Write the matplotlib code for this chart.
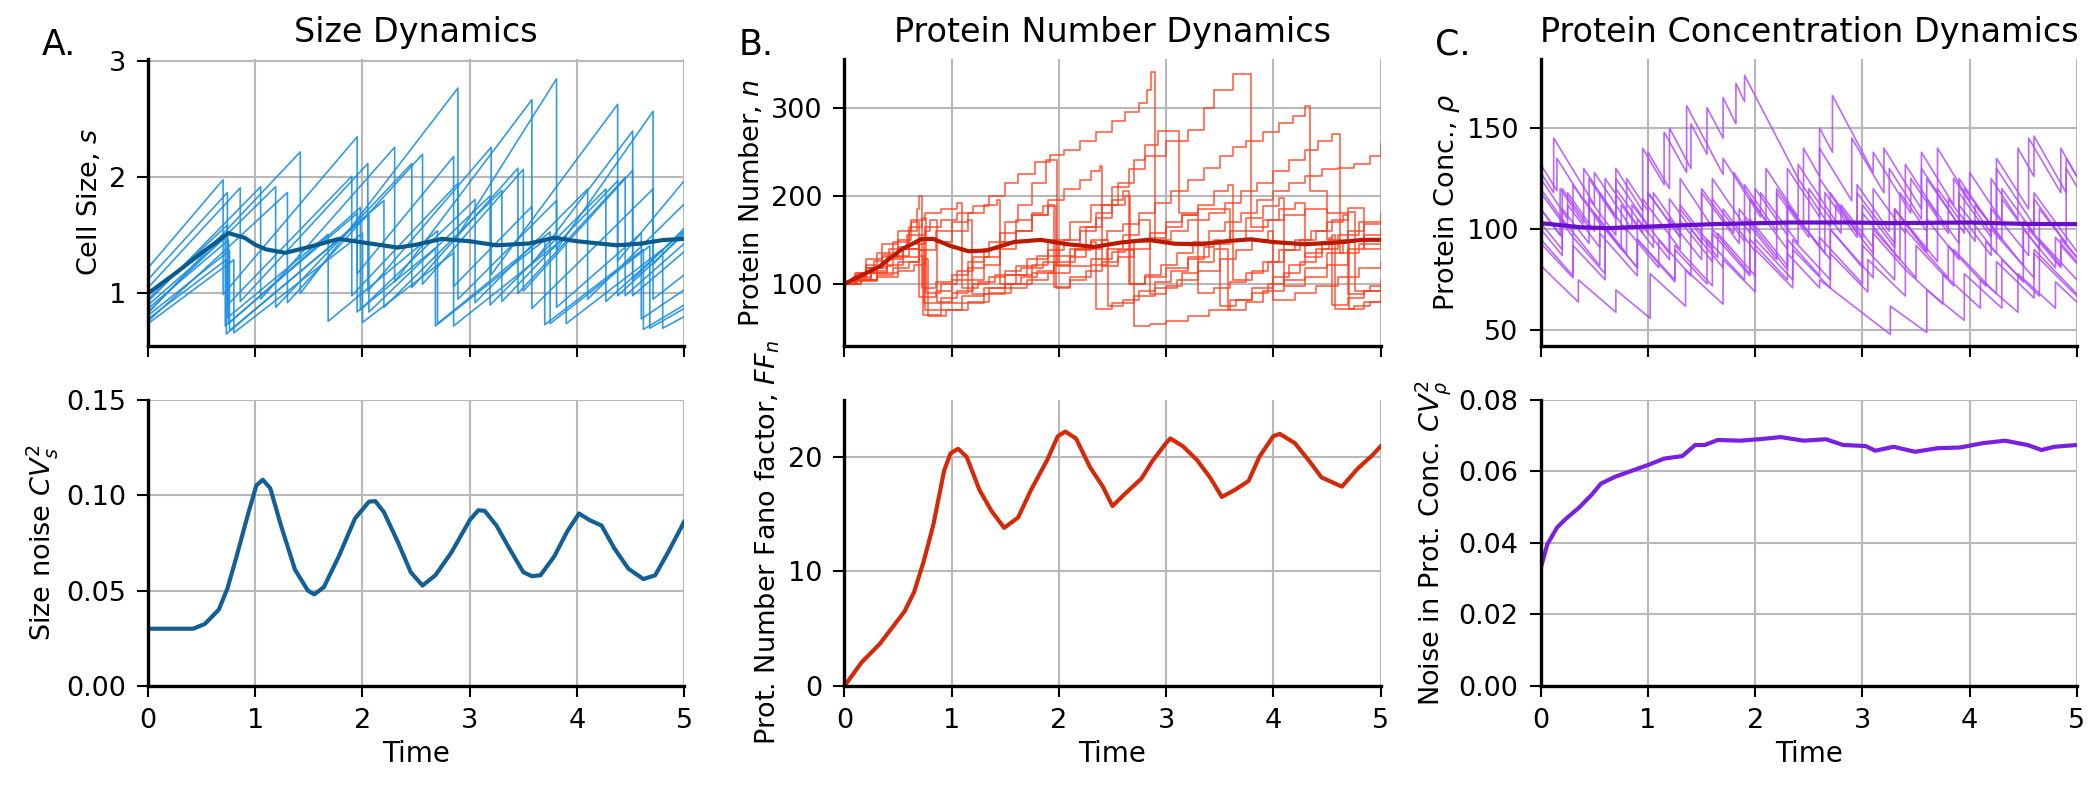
import numpy as np
import matplotlib.pyplot as plt

# ---- data ----
# A. cell size trajectories, vertices (time, size); a repeated time is a division
size_traj = [
    [(0, 1.22), (0.70, 1.98), (0.70, 0.99), (1.95, 2.35), (1.95, 1.17), (2.85, 2.18), (2.85, 1.06),
     (3.58, 1.75), (3.58, 0.87), (4.71, 1.90), (4.71, 0.95), (5, 1.16)],
    [(0, 1.05), (0.86, 1.91), (0.86, 0.93), (2.05, 2.12), (2.05, 1.02), (3.20, 2.26), (3.20, 1.16),
     (4.38, 2.63), (4.38, 1.28), (5, 1.97)],
    [(0, 1.12), (0.74, 1.87), (0.74, 0.90), (1.90, 2.01), (1.90, 0.98), (2.89, 1.95), (2.89, 0.95),
     (3.81, 1.80), (3.81, 0.88), (4.60, 1.52), (4.60, 0.78), (5, 1.03)],
    [(0, 0.93), (1.05, 1.92), (1.05, 0.95), (2.30, 2.26), (2.30, 1.10), (3.58, 2.67), (3.58, 1.25),
     (4.52, 2.40), (4.52, 1.12), (5, 1.56)],
    [(0, 0.84), (1.19, 1.92), (1.19, 0.88), (2.46, 2.12), (2.46, 1.05), (3.45, 2.08), (3.45, 1.00),
     (4.45, 2.00), (4.45, 0.98), (5, 1.43)],
    [(0, 0.83), (1.42, 2.22), (1.42, 1.00), (2.89, 2.77), (2.89, 1.50), (3.81, 2.85), (3.81, 1.38),
     (4.71, 2.57), (4.71, 1.25), (5, 1.53)],
    [(0, 0.90), (0.72, 1.48), (0.72, 0.72), (1.95, 1.69), (1.95, 0.84), (2.68, 1.39), (2.68, 0.72),
     (3.70, 1.46), (3.70, 0.73), (4.62, 1.38), (4.62, 0.69), (5, 0.90)],
    [(0, 0.87), (0.75, 1.46), (0.75, 0.74), (1.98, 1.74), (1.98, 0.86), (3.05, 1.81), (3.05, 0.92),
     (4.10, 1.90), (4.10, 0.95), (5, 1.77)],
    [(0, 0.81), (0.76, 1.37), (0.76, 0.68), (2.06, 1.68), (2.06, 0.84), (3.19, 1.84), (3.19, 0.90),
     (4.27, 1.90), (4.27, 0.93), (5, 1.54)],
    [(0, 0.78), (0.73, 1.29), (0.73, 0.65), (2.20, 1.80), (2.20, 0.88), (3.30, 1.89), (3.30, 0.93),
     (4.38, 1.97), (4.38, 0.98), (5, 1.51)],
    [(0, 0.76), (1.30, 1.87), (1.30, 0.92), (2.56, 2.20), (2.56, 1.08), (3.50, 2.07), (3.50, 1.02),
     (4.52, 2.06), (4.52, 0.98), (5, 1.36)],
    [(0, 0.74), (0.80, 1.29), (0.80, 0.66), (2.00, 1.52), (2.00, 0.75), (2.85, 1.35), (2.85, 0.72),
     (3.90, 1.49), (3.90, 0.74), (4.80, 1.38), (4.80, 0.70), (5, 0.80)],
    [(0, 0.95), (0.74, 1.59), (0.74, 0.79), (1.68, 1.51), (1.68, 0.76), (2.70, 1.54), (2.70, 0.74),
     (3.75, 1.53), (3.75, 0.74), (4.68, 1.41), (4.68, 0.70), (5, 0.87)],
]
size_mean_t = [0, 0.25, 0.5, 0.75, 0.9, 1.0, 1.1, 1.28, 1.5, 1.78, 2.0, 2.33, 2.5, 2.74, 3.0, 3.25,
               3.55, 3.79, 4.0, 4.37, 4.6, 4.8, 5.0]
size_mean = [1.0, 1.17, 1.35, 1.52, 1.48, 1.42, 1.38, 1.35, 1.40, 1.47, 1.44, 1.395, 1.42, 1.47, 1.45,
             1.415, 1.43, 1.48, 1.45, 1.415, 1.43, 1.46, 1.47]

# A. size noise CV_s^2
cv_s_t = [0, 0.42, 0.53, 0.66, 0.74, 0.82, 0.93, 1.01, 1.07, 1.14, 1.24, 1.37, 1.49, 1.55, 1.64, 1.78,
          1.93, 2.06, 2.12, 2.20, 2.33, 2.45, 2.56, 2.68, 2.83, 3.0, 3.08, 3.14, 3.25, 3.37, 3.50, 3.58,
          3.66, 3.79, 3.91, 4.02, 4.12, 4.23, 4.35, 4.48, 4.62, 4.73, 4.85, 5.0]
cv_s = [0.030, 0.030, 0.0325, 0.040, 0.051, 0.0667, 0.0895, 0.105, 0.108, 0.1035, 0.084, 0.061, 0.050,
        0.048, 0.0518, 0.068, 0.0877, 0.0965, 0.0968, 0.091, 0.0754, 0.0596, 0.0526, 0.058, 0.070,
        0.0868, 0.092, 0.0917, 0.084, 0.072, 0.0596, 0.0575, 0.058, 0.068, 0.081, 0.0903, 0.0868,
        0.084, 0.072, 0.0614, 0.056, 0.058, 0.070, 0.086]

# B. protein number trajectories, change points (time, n)
prot_traj = [
    [(0, 100), (0.08, 108), (0.2, 118), (0.35, 133), (0.5, 150), (0.62, 170), (0.70, 85), (0.85, 92),
     (1.0, 104), (1.15, 118), (1.3, 130), (1.45, 148), (1.6, 160), (1.75, 178), (1.9, 190), (1.95, 96),
     (2.1, 108), (2.3, 122), (2.45, 140), (2.6, 155), (2.75, 172), (2.85, 88), (3.0, 98), (3.15, 112),
     (3.3, 125), (3.45, 140), (3.58, 70), (3.75, 80), (3.9, 92), (4.1, 105), (4.3, 118), (4.5, 135),
     (4.65, 146), (4.71, 72), (4.85, 80), (5, 88)],
    [(0, 100), (0.12, 112), (0.28, 126), (0.42, 140), (0.58, 155), (0.75, 165), (0.9, 172), (1.05, 180),
     (1.2, 188), (1.35, 200), (1.5, 214), (1.62, 225), (1.78, 238), (1.92, 246), (2.05, 252),
     (2.2, 262), (2.35, 272), (2.5, 285), (2.62, 295), (2.75, 305), (2.82, 320), (2.86, 340),
     (2.90, 150), (3.05, 160), (3.2, 172), (3.4, 180), (3.55, 192), (3.7, 205), (3.85, 215),
     (4.0, 228), (4.15, 240), (4.3, 252), (4.42, 262), (4.55, 270), (4.62, 135), (4.8, 145), (5, 160)],
    [(0, 100), (0.1, 104), (0.3, 112), (0.5, 125), (0.7, 138), (0.75, 70), (0.9, 78), (1.1, 86),
     (1.3, 95), (1.5, 110), (1.7, 128), (1.9, 150), (2.1, 170), (2.3, 190), (2.5, 210), (2.65, 230),
     (2.8, 245), (3.0, 262), (3.2, 275), (3.35, 300), (3.45, 320), (3.62, 338), (3.79, 165),
     (3.95, 172), (4.1, 178), (4.3, 185), (4.5, 150), (4.7, 160), (4.85, 168), (5, 175)],
    [(0, 100), (0.1, 106), (0.25, 115), (0.4, 128), (0.55, 140), (0.7, 150), (0.74, 78), (0.9, 84),
     (1.05, 92), (1.2, 100), (1.35, 108), (1.5, 115), (1.65, 118), (1.85, 125), (2.0, 132), (2.15, 140),
     (2.3, 150), (2.45, 160), (2.6, 168), (2.75, 180), (2.9, 192), (3.05, 205), (3.2, 218), (3.35, 232),
     (3.5, 245), (3.62, 255), (3.75, 262), (3.9, 272), (4.05, 282), (4.18, 290), (4.3, 302), (4.34, 205),
     (4.5, 180), (4.7, 186), (4.85, 140), (5, 145)],
    [(0, 100), (0.1, 108), (0.2, 118), (0.35, 130), (0.5, 142), (0.6, 160), (0.68, 185), (0.70, 200),
     (0.72, 95), (0.85, 102), (1.0, 110), (1.15, 125), (1.3, 140), (1.45, 158), (1.6, 172), (1.75, 180),
     (1.85, 188), (1.97, 95), (2.1, 104), (2.25, 115), (2.4, 125), (2.55, 138), (2.7, 148), (2.85, 158),
     (3.0, 170), (3.15, 178), (3.3, 90), (3.45, 95), (3.6, 102), (3.75, 112), (3.9, 125), (4.05, 138),
     (4.2, 150), (4.35, 160), (4.5, 170), (4.65, 178), (4.7, 88), (4.85, 92), (5, 100)],
    [(0, 100), (0.15, 112), (0.3, 120), (0.45, 132), (0.6, 145), (0.75, 160), (0.8, 172), (0.86, 80),
     (1.0, 90), (1.15, 105), (1.3, 122), (1.45, 140), (1.6, 160), (1.75, 178), (1.9, 195), (2.05, 208),
     (2.2, 218), (2.3, 228), (2.38, 234), (2.40, 120), (2.55, 130), (2.7, 140), (2.85, 152), (3.0, 165),
     (3.15, 178), (3.3, 190), (3.45, 205), (3.58, 212), (3.62, 105), (3.8, 115), (3.95, 125),
     (4.1, 138), (4.25, 150), (4.4, 160), (4.55, 172), (4.7, 182), (4.76, 92), (4.9, 98), (5, 104)],
    [(0, 100), (0.1, 110), (0.2, 122), (0.3, 135), (0.45, 148), (0.6, 165), (0.72, 175), (0.76, 90),
     (0.9, 100), (1.05, 115), (1.2, 130), (1.35, 148), (1.5, 170), (1.62, 190), (1.75, 215), (1.88, 240),
     (1.98, 120), (2.1, 140), (2.25, 165), (2.4, 190), (2.55, 215), (2.7, 240), (2.8, 258), (2.92, 274),
     (3.12, 180), (3.3, 185), (3.6, 150), (3.75, 160), (3.9, 172), (4.05, 185), (4.2, 192), (4.3, 130),
     (4.45, 140), (4.6, 155), (4.8, 170), (5, 180)],
    [(0, 100), (0.15, 104), (0.3, 110), (0.45, 118), (0.6, 125), (0.7, 132), (0.73, 65), (0.9, 70),
     (1.1, 78), (1.3, 88), (1.5, 95), (1.7, 104), (1.9, 112), (2.1, 120), (2.3, 128), (2.5, 136),
     (2.62, 140), (2.70, 52), (2.85, 54), (3.0, 58), (3.2, 64), (3.4, 70), (3.6, 82), (3.8, 95),
     (4.0, 108), (4.15, 122), (4.3, 135), (4.45, 148), (4.55, 155), (4.58, 72), (4.75, 75), (4.9, 80),
     (5, 82)],
    [(0, 100), (0.1, 112), (0.2, 128), (0.35, 145), (0.5, 160), (0.62, 172), (0.75, 180), (0.9, 185),
     (1.05, 192), (1.10, 95), (1.25, 102), (1.4, 110), (1.6, 120), (1.8, 132), (2.0, 145), (2.2, 160),
     (2.35, 175), (2.5, 190), (2.62, 200), (2.66, 100), (2.8, 108), (3.0, 118), (3.2, 130), (3.4, 145),
     (3.6, 160), (3.75, 175), (3.9, 188), (4.05, 198), (4.10, 98), (4.3, 108), (4.5, 122), (4.7, 140),
     (4.85, 155), (5, 165)],
    [(0, 100), (0.1, 105), (0.25, 112), (0.4, 122), (0.55, 130), (0.7, 138), (0.85, 148), (1.0, 160),
     (1.15, 172), (1.19, 88), (1.35, 95), (1.5, 100), (1.65, 108), (1.8, 115), (1.95, 122), (2.1, 130),
     (2.25, 140), (2.4, 150), (2.46, 75), (2.6, 82), (2.75, 92), (2.9, 102), (3.05, 115), (3.2, 128),
     (3.35, 142), (3.45, 150), (3.5, 75), (3.65, 82), (3.8, 90), (3.95, 100), (4.1, 112), (4.25, 125),
     (4.4, 140), (4.52, 152), (4.55, 76), (4.7, 84), (4.85, 92), (5, 98)],
    [(0, 100), (0.1, 108), (0.25, 118), (0.4, 130), (0.55, 140), (0.7, 152), (0.85, 160), (1.0, 170),
     (1.15, 180), (1.3, 190), (1.42, 195), (1.45, 100), (1.6, 110), (1.75, 122), (1.9, 138), (2.05, 150),
     (2.2, 165), (2.35, 180), (2.5, 195), (2.6, 205), (2.65, 100), (2.8, 110), (2.95, 122), (3.1, 135),
     (3.25, 148), (3.4, 160), (3.55, 170), (3.7, 180), (3.85, 195), (4.0, 205), (4.15, 215), (4.3, 222),
     (4.45, 230), (4.6, 232), (4.75, 236), (4.9, 245), (5, 259)],
    [(0, 100), (0.12, 103), (0.3, 108), (0.5, 115), (0.65, 122), (0.75, 128), (0.78, 64), (0.95, 70),
     (1.15, 80), (1.35, 90), (1.55, 100), (1.75, 112), (1.95, 125), (2.15, 138), (2.3, 148), (2.35, 72),
     (2.5, 78), (2.7, 86), (2.9, 95), (3.1, 104), (3.3, 115), (3.5, 128), (3.65, 138), (3.8, 150),
     (3.95, 160), (4.0, 82), (4.2, 90), (4.4, 98), (4.6, 108), (4.8, 118), (5, 125)],
]
prot_mean_t = [0, 0.33, 0.53, 0.72, 0.83, 0.99, 1.16, 1.33, 1.58, 1.83, 2.08, 2.33, 2.58, 2.83, 3.08,
               3.33, 3.58, 3.79, 4.0, 4.29, 4.58, 4.83, 5.0]
prot_mean = [100, 120, 139, 151, 151, 143, 137, 138, 147.5, 150, 145, 142, 147, 150, 145.6, 145,
             148.7, 150.6, 147.5, 145, 146.8, 150, 150]

# B. protein number Fano factor
ff_t = [0, 0.16, 0.33, 0.45, 0.56, 0.65, 0.74, 0.83, 0.93, 0.99, 1.06, 1.14, 1.26, 1.37, 1.49, 1.62,
        1.74, 1.89, 1.99, 2.06, 2.16, 2.29, 2.41, 2.5, 2.62, 2.77, 2.87, 3.0, 3.04, 3.16, 3.29, 3.41,
        3.52, 3.64, 3.77, 3.87, 4.0, 4.06, 4.2, 4.33, 4.45, 4.64, 4.79, 4.92, 5.0]
ff = [0, 2.06, 3.68, 5.15, 6.5, 8.2, 10.9, 14.1, 18.8, 20.3, 20.7, 20.0, 17.1, 15.3, 13.8, 14.7, 17.1,
      19.7, 21.8, 22.2, 21.6, 19.1, 17.4, 15.7, 16.8, 18.1, 19.6, 21.2, 21.6, 20.9, 19.7, 18.2, 16.5,
      17.1, 17.9, 20.0, 21.8, 22.0, 21.2, 19.7, 18.2, 17.4, 19.0, 20.1, 20.9]

# C. protein concentration: start value, then (time, value before burst, value after burst)
conc_start = [128, 120, 95, 110, 82, 118, 100, 132, 125, 93, 110, 103]
conc_end = [86, 68, 67, 84, 86, 75, 89, 64, 126, 121, 83, 126]
conc_jumps = [
    [(0.12, 118, 145), (0.5, 112, 128), (0.85, 100, 112), (1.2, 88, 105), (1.5, 85, 118), (1.85, 93, 110),
     (2.3, 80, 95), (2.6, 77, 96), (3.0, 73, 92), (3.3, 75, 110), (3.7, 84, 120), (4.05, 94, 112),
     (4.5, 82, 104), (4.85, 82, 95)],
    [(0.25, 101, 112), (0.55, 91, 118), (0.8, 99, 125), (1.0, 109, 138), (1.2, 120, 150), (1.4, 130, 152),
     (1.55, 137, 160), (1.7, 145, 165), (1.82, 152, 172), (1.9, 163, 176), (2.4, 125, 132),
     (2.75, 104, 112), (3.1, 88, 100), (3.5, 76, 92), (3.85, 72, 90), (4.25, 68, 84), (4.6, 66, 90)],
    [(0.3, 77, 92), (0.6, 75, 100), (0.9, 81, 95), (1.25, 75, 90), (1.55, 73, 95), (1.9, 75, 105),
     (2.2, 85, 120), (2.45, 101, 140), (2.6, 126, 150), (2.72, 138, 166), (3.1, 128, 138),
     (3.45, 108, 125), (3.8, 98, 115), (4.2, 87, 100), (4.6, 76, 88)],
    [(0.2, 96, 120), (0.45, 101, 125), (0.7, 105, 130), (0.95, 109, 140), (1.15, 122, 148),
     (1.36, 128, 161), (1.7, 127, 135), (2.05, 106, 118), (2.4, 93, 105), (2.7, 85, 100), (3.1, 76, 98),
     (3.4, 80, 100), (3.8, 76, 92), (4.15, 72, 94), (4.5, 74, 100), (4.8, 81, 96)],
    [(0.35, 64, 75), (0.7, 59, 70), (1.02, 56, 78), (1.35, 62, 80), (1.7, 63, 85), (2.0, 69, 90),
     (2.35, 71, 95), (2.7, 75, 100), (3.0, 81, 108), (3.35, 85, 118), (3.6, 99, 125), (3.95, 98, 120),
     (4.3, 95, 115), (4.65, 90, 110)],
    [(0.3, 96, 122), (0.6, 99, 125), (0.95, 98, 115), (1.3, 90, 104), (1.6, 84, 100), (1.95, 78, 95),
     (2.3, 75, 88), (2.6, 71, 75), (3.26, 48, 62), (3.6, 49, 70), (3.95, 55, 78), (4.3, 61, 85),
     (4.65, 67, 95)],
    [(0.2, 87, 110), (0.45, 93, 115), (0.7, 97, 120), (1.0, 98, 118), (1.3, 96, 112), (1.6, 91, 115),
     (1.9, 94, 122), (2.2, 99, 118), (2.5, 96, 120), (2.8, 98, 112), (3.1, 91, 120), (3.4, 98, 132),
     (3.7, 107, 140), (4.0, 114, 128), (4.3, 104, 120), (4.6, 98, 118)],
    [(0.15, 119, 135), (0.4, 114, 130), (0.7, 106, 125), (1.0, 102, 118), (1.3, 96, 110), (1.65, 86, 98),
     (2.0, 77, 95), (2.35, 75, 90), (2.7, 71, 88), (3.05, 69, 85), (3.4, 67, 80), (3.75, 63, 78),
     (4.1, 61, 75), (4.45, 59, 78), (4.8, 61, 74)],
    [(0.25, 105, 118), (0.5, 99, 108), (0.8, 88, 100), (1.1, 81, 95), (1.4, 77, 100), (1.7, 81, 110),
     (2.0, 89, 120), (2.3, 97, 130), (2.6, 106, 140), (2.9, 114, 145), (3.2, 118, 140), (3.55, 110, 130),
     (3.9, 102, 125), (4.25, 98, 135), (4.55, 110, 145), (4.85, 118, 140)],
    [(0.3, 76, 96), (0.6, 78, 100), (0.9, 81, 105), (1.2, 85, 115), (1.5, 93, 120), (1.8, 98, 128),
     (2.1, 104, 130), (2.4, 106, 125), (2.7, 101, 118), (3.0, 96, 112), (3.3, 91, 110), (3.6, 89, 115),
     (3.9, 93, 118), (4.2, 96, 125), (4.45, 105, 140), (4.6, 126, 146), (4.9, 118, 130)],
    [(0.18, 97, 120), (0.4, 103, 115), (0.75, 90, 112), (1.05, 91, 118), (1.3, 99, 125), (1.6, 101, 125),
     (1.95, 98, 115), (2.3, 90, 112), (2.65, 88, 118), (2.95, 96, 122), (3.25, 99, 130), (3.55, 105, 138),
     (3.85, 112, 125), (4.2, 98, 110), (4.55, 87, 100), (4.85, 81, 92)],
    [(0.2, 90, 105), (0.55, 82, 98), (0.9, 77, 95), (1.25, 74, 92), (1.6, 72, 98), (1.95, 77, 105),
     (2.3, 82, 112), (2.6, 91, 125), (2.95, 98, 118), (3.3, 93, 110), (3.6, 89, 105), (3.9, 85, 112),
     (4.25, 88, 130), (4.6, 102, 115), (4.9, 93, 135)],
]
conc_mean_t = [0, 0.36, 0.61, 1.0, 1.61, 2.32, 2.87, 3.28, 4.0, 4.54, 5.0]
conc_mean = [103, 101, 100.5, 101.3, 102.5, 103.3, 103.3, 103, 103.3, 102.6, 102.5]

# C. noise in protein concentration CV_p^2
cv_p_t = [0, 0.06, 0.15, 0.23, 0.36, 0.48, 0.56, 0.69, 0.82, 0.99, 1.15, 1.32, 1.44, 1.53, 1.65, 1.86,
          2.03, 2.24, 2.45, 2.66, 2.82, 3.03, 3.12, 3.29, 3.49, 3.70, 3.91, 4.12, 4.33, 4.54, 4.67, 4.79,
          5.0]
cv_p = [0.033, 0.0395, 0.0442, 0.0466, 0.0499, 0.0536, 0.0565, 0.0584, 0.0598, 0.0616, 0.0635, 0.0642,
        0.0673, 0.0673, 0.0687, 0.0685, 0.0689, 0.0695, 0.0685, 0.0689, 0.0673, 0.067, 0.0657, 0.0668,
        0.0654, 0.0664, 0.0666, 0.0678, 0.0685, 0.0673, 0.0659, 0.0668, 0.0673]

# colours
c_size, c_size_dark = '#1e90e0', '#0b5a8e'
c_prot, c_prot_dark = '#ff3a1a', '#bb1a00'
c_conc, c_conc_dark = '#b04dff', '#6a0dcc'

plt.rcParams['font.family'] = 'DejaVu Sans'
plt.rcParams['mathtext.fontset'] = 'dejavusans'

fig, axs = plt.subplots(2, 3, figsize=(21, 7.88), dpi=100, sharex=True)
fig.subplots_adjust(left=0.0705, right=0.989, bottom=0.1294, top=0.925, wspace=0.299, hspace=0.188)

# --- top row: trajectories ---
ax = axs[0, 0]
for tr in size_traj:
    t, s = zip(*tr)
    ax.plot(t, s, color=c_size, lw=1.2, alpha=0.9)
ax.plot(size_mean_t, size_mean, color=c_size_dark, lw=3.0)
ax.set_ylim(0.55, 3.02)
ax.set_yticks([1, 2, 3])
ax.set_ylabel(r'Cell Size, $s$')

ax = axs[0, 1]
for tr in prot_traj:
    t, n = zip(*tr)
    ax.plot(t, n, color=c_prot, lw=1.2, alpha=0.8, drawstyle='steps-post')
ax.plot(prot_mean_t, prot_mean, color=c_prot_dark, lw=3.0)
ax.set_ylim(30, 355)
ax.set_yticks([100, 200, 300])
ax.set_ylabel(r'Protein Number, $n$')

ax = axs[0, 2]
for p0, pend, jumps in zip(conc_start, conc_end, conc_jumps):
    t = [0]
    p = [p0]
    for tj, before, after in jumps:
        t += [tj, tj]
        p += [before, after]
    t.append(5)
    p.append(pend)
    ax.plot(t, p, color=c_conc, lw=1.2, alpha=0.85)
ax.plot(conc_mean_t, conc_mean, color=c_conc_dark, lw=3.0)
ax.set_ylim(42.5, 184)
ax.set_yticks([50, 100, 150])
ax.set_ylabel(r'Protein Conc., $\rho$')

# --- bottom row: statistics ---
ax = axs[1, 0]
ax.plot(cv_s_t, cv_s, color='#135f96', lw=3.0)
ax.set_ylim(0, 0.15)
ax.set_yticks([0, 0.05, 0.10, 0.15])
ax.set_ylabel(r'Size noise $CV_s^2$')

ax = axs[1, 1]
ax.plot(ff_t, ff, color='#d42a0a', lw=3.0)
ax.set_ylim(0, 25)
ax.set_yticks([0, 10, 20])
ax.set_ylabel(r'Prot. Number Fano factor, $FF_n$')

ax = axs[1, 2]
ax.plot(cv_p_t, cv_p, color='#7a20e0', lw=3.0)
ax.set_ylim(0, 0.08)
ax.set_yticks([0, 0.02, 0.04, 0.06, 0.08])
ax.set_ylabel(r'Noise in Prot. Conc. $CV_\rho^2$')

titles = ['Size Dynamics', 'Protein Number Dynamics', 'Protein Concentration Dynamics']
letters = ['A.', 'B.', 'C.']
for j in range(3):
    axs[0, j].set_title(titles[j], fontsize=24, pad=12)
    axs[0, j].text(-0.198, 1.05, letters[j], transform=axs[0, j].transAxes,
                   fontsize=25, ha='left', va='center')
    axs[1, j].set_xlabel('Time', fontsize=20)

for ax in axs.flat:
    ax.set_xlim(0, 5)
    ax.set_xticks([0, 1, 2, 3, 4, 5])
    ax.spines['top'].set_visible(False)
    ax.spines['right'].set_visible(False)
    ax.spines['left'].set_linewidth(2.4)
    ax.spines['bottom'].set_linewidth(2.4)
    ax.grid(True, color='#b8b8b8', lw=1.5)
    ax.set_axisbelow(True)
    ax.tick_params(labelsize=19.5, length=8, width=1.5, pad=8)
    ax.yaxis.label.set_size(19.5)

fig.savefig('out.png', dpi=100)
